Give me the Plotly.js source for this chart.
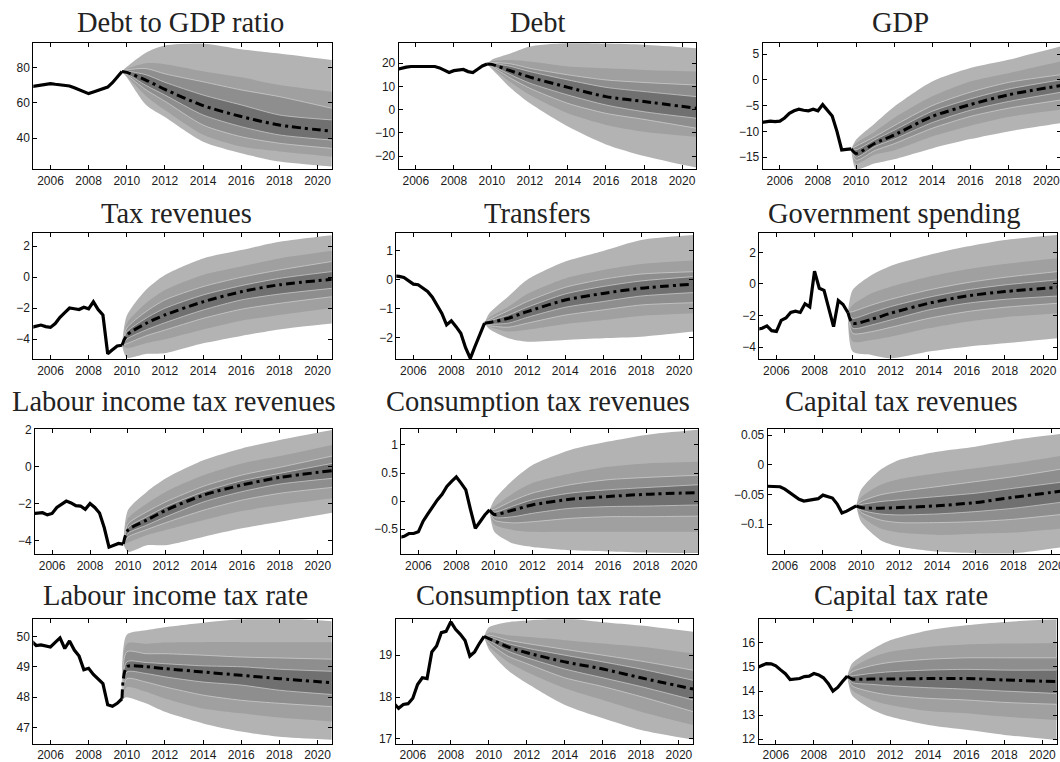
<!DOCTYPE html>
<html>
<head>
<meta charset="utf-8">
<script src="https://cdn.plot.ly/plotly-3.0.1.min.js"></script>
<style>
  html, body { margin: 0; padding: 0; background: #fff; overflow: hidden; }
  #chart { width: 1072px; height: 762px; }
</style>
</head>
<body>
<div id="chart"></div>
<script>
// ---- dates ----
const histDates = [2005, 2005.25, 2005.5, 2005.75, 2006, 2006.25, 2006.5, 2006.75, 2007, 2007.25,
                   2007.5, 2007.75, 2008, 2008.25, 2008.5, 2008.75, 2009, 2009.25, 2009.5, 2009.75];
const fanDates = [2010, 2011, 2012, 2014, 2016, 2018, 2020.75];
const yearTicks = [2006, 2008, 2010, 2012, 2014, 2016, 2018, 2020];

// ---- Debt to GDP ratio ----
const debtGdpHist = [69.3, 69.8, 70.4, 70.8, 71.0, 70.6, 70.2, 70.0, 69.6, 68.6, 67.5, 66.0, 65.3, 66.2, 67.2, 68.3, 69.0, 71.5, 74.5, 77.8];
const debtGdpMid = [77.3, 73, 67.7, 58.5, 52.3, 47.5, 44];
const debtGdpHi = [[78, 76, 71.7, 64.5, 58.9, 53.2, 50.4], [78.7, 79.5, 76.5, 72, 67.4, 63.6, 57],
                   [79.3, 82.5, 82, 78, 74.5, 70.2, 66.4], [80.5, 88.5, 92.5, 93.6, 90.5, 88, 84.3]];
const debtGdpLo = [[76.6, 70, 64.5, 53.2, 46.6, 41.9, 39], [76, 67.5, 61, 47.5, 40.9, 37.2, 34.3],
                   [75.3, 64, 56, 42, 35.3, 32.5, 29.6], [74.5, 59, 52, 38, 31.5, 26.8, 24]];
const debtGdpTicks = [40, 60, 80];

// ---- Debt ----
const debtHist = [17.3, 17.9, 18.3, 18.6, 18.6, 18.6, 18.7, 18.6, 18.6, 18.0, 17.0, 16.0, 16.8, 17.2, 17.3, 16.4, 16.0, 17.4, 18.8, 19.7];
const debtMid = [19.5, 16.7, 14, 9.6, 5.6, 3.5, 0.6];
const debtHi = [[20, 18.6, 16.4, 12.8, 9.6, 7.8, 5.6], [20.3, 19.7, 17.8, 15, 12.8, 11.7, 10.6],
                [20.8, 21.4, 20.7, 18.6, 17.8, 17.1, 16.4], [21.5, 24.3, 27.2, 28.7, 28.5, 28, 26.5]];
const debtLo = [[19, 15, 11.4, 6.3, 2, -0.9, -3.7], [18.6, 13.5, 9.2, 2.7, -1.6, -4.2, -8],
                [18.2, 11.7, 6.3, -1.6, -6.6, -9.5, -11.7], [17.5, 9.2, 2.7, -7.3, -15, -20, -25]];
const debtTicks = [-20, -10, 0, 10, 20];

// ---- GDP ----
const gdpHist = [-8.3, -8.2, -8.0, -8.1, -8.0, -7.4, -6.5, -6.0, -5.7, -5.9, -6.0, -5.7, -6.0, -4.8, -5.8, -7.0, -10.0, -13.6, -13.5, -13.4];
const gdpMid = [-14.3, -12.3, -10.7, -7.1, -4.8, -2.9, -1.1];
const gdpHi = [[-13.6, -11.6, -9.8, -6.1, -3.7, -1.8, 0], [-12.9, -11, -8.9, -5, -2.4, -0.5, 1],
               [-12.3, -10, -7.4, -3.2, -0.3, 1.3, 3.6], [-11.6, -8.4, -5.2, -0.3, 2.3, 3.9, 6.5]];
const gdpLo = [[-15, -12.9, -11.5, -8.3, -5.9, -4.2, -2.4], [-15.6, -13.7, -12.4, -9.4, -7.1, -5.5, -3.9],
               [-16.3, -14.5, -13.7, -11, -8.9, -7.2, -5.8], [-17.3, -16.2, -15.4, -13.3, -11.5, -10, -8.4]];
const gdpTicks = [-15, -10, -5, 0, 5];

// ---- Tax revenues ----
const taxRevHist = [-3.25, -3.2, -3.1, -3.2, -3.25, -3.0, -2.6, -2.3, -2.0, -2.05, -2.1, -1.95, -2.05, -1.6, -2.1, -2.45, -4.95, -4.7, -4.45, -4.4];
const taxRevMid = [-3.75, -3.0, -2.45, -1.6, -0.95, -0.5, -0.15];
const taxRevHi = [[-3.55, -2.67, -2.02, -1.16, -0.56, -0.09, 0.35], [-3.3, -2.24, -1.48, -0.62, -0.02, 0.45, 1.0],
                  [-3.0, -1.7, -0.84, 0.13, 0.67, 1.2, 1.7], [-2.5, -0.84, 0.13, 1.2, 1.74, 2.28, 2.7]];
const taxRevLo = [[-4.0, -3.42, -2.95, -2.13, -1.48, -1.1, -0.73], [-4.3, -3.8, -3.42, -2.67, -2.08, -1.7, -1.27],
                  [-4.6, -4.28, -4.02, -3.38, -2.82, -2.45, -2.0], [-5.2, -4.97, -4.92, -4.28, -3.8, -3.38, -3.0]];
const taxRevTicks = [-4, -2, 0, 2];

// ---- Transfers ----
const transfersHist = [0.13, 0.12, 0.08, -0.02, -0.15, -0.17, -0.27, -0.4, -0.6, -0.87, -1.16, -1.56, -1.42, -1.62, -1.85, -2.35, -2.72, -2.3, -1.9, -1.5];
const transfersMid = [-1.48, -1.33, -1.1, -0.7, -0.47, -0.29, -0.15];
const transfersHi = [[-1.43, -1.22, -0.95, -0.49, -0.23, -0.04, 0.11], [-1.38, -1.07, -0.75, -0.26, 0.02, 0.2, 0.28],
                     [-1.3, -0.93, -0.49, 0.05, 0.34, 0.55, 0.67], [-1.16, -0.58, 0.0, 0.63, 1.0, 1.38, 1.55]];
const transfersLo = [[-1.53, -1.5, -1.3, -0.95, -0.75, -0.56, -0.44], [-1.58, -1.64, -1.5, -1.22, -1.04, -0.87, -0.79],
                     [-1.62, -1.79, -1.73, -1.53, -1.39, -1.25, -1.16], [-1.7, -2.02, -2.14, -2.08, -2.02, -1.97, -1.79]];
const transfersTicks = [-2, -1, 0, 1];

// ---- Government spending ----
const govHist = [-2.86, -2.8, -2.65, -2.95, -3.0, -2.3, -2.15, -1.8, -1.72, -1.8, -1.25, -1.45, 0.8, -0.27, -0.4, -1.6, -2.7, -1.05, -1.3, -1.8];
const govMid = [-2.48, -2.23, -1.85, -1.22, -0.76, -0.48, -0.21];
const govHi = [[-2.17, -1.81, -1.43, -0.84, -0.38, -0.06, 0.25], [-1.75, -1.33, -0.97, -0.38, 0.08, 0.42, 0.78],
               [-1.33, -0.59, -0.17, 0.46, 0.93, 1.26, 1.62], [-0.38, 0.57, 1.14, 1.83, 2.36, 2.78, 3.1]];
const govLo = [[-2.8, -2.59, -2.27, -1.64, -1.22, -0.97, -0.76], [-3.12, -3.01, -2.74, -2.17, -1.75, -1.47, -1.22],
               [-3.64, -3.54, -3.33, -2.8, -2.38, -2.1, -1.85], [-4.27, -4.48, -4.7, -4.27, -3.96, -3.75, -3.43]];
const govTicks = [-4, -2, 0, 2];

// ---- Labour income tax revenues ----
const labRevHist = [-2.52, -2.5, -2.48, -2.6, -2.52, -2.2, -2.0, -1.85, -1.95, -2.1, -2.12, -2.3, -1.98, -2.2, -2.5, -3.3, -4.35, -4.25, -4.15, -4.18];
const labRevMid = [-3.42, -2.88, -2.34, -1.52, -0.98, -0.57, -0.2];
const labRevHi = [[-3.3, -2.7, -2.16, -1.34, -0.75, -0.35, 0.19], [-3.1, -2.43, -1.89, -1.04, -0.44, -0.02, 0.59],
                  [-2.8, -1.98, -1.34, -0.44, 0.19, 0.59, 1.19], [-2.34, -1.34, -0.62, 0.37, 1.0, 1.46, 2.0]];
const labRevLo = [[-3.6, -3.15, -2.7, -1.89, -1.34, -0.93, -0.62], [-3.8, -3.39, -3.02, -2.34, -1.8, -1.43, -1.11],
                  [-4.1, -3.69, -3.42, -2.88, -2.39, -2.07, -1.7], [-4.6, -4.24, -4.24, -3.78, -3.33, -2.97, -2.48]];
const labRevTicks = [-4, -2, 0, 2];

// ---- Consumption tax revenues ----
const conRevHist = [-0.65, -0.63, -0.58, -0.58, -0.55, -0.36, -0.23, -0.1, 0.02, 0.12, 0.26, 0.35, 0.43, 0.32, 0.2, -0.16, -0.49, -0.37, -0.25, -0.16];
const conRevMid = [-0.24, -0.16, -0.07, 0.03, 0.08, 0.12, 0.15];
const conRevHi = [[-0.2, -0.09, 0.02, 0.14, 0.2, 0.24, 0.29], [-0.15, 0.01, 0.14, 0.29, 0.38, 0.42, 0.46],
                  [-0.1, 0.14, 0.32, 0.49, 0.61, 0.67, 0.7], [0.02, 0.38, 0.64, 0.91, 1.06, 1.18, 1.27]];
const conRevLo = [[-0.29, -0.28, -0.22, -0.13, -0.1, -0.09, -0.07], [-0.34, -0.39, -0.37, -0.31, -0.28, -0.28, -0.27],
                  [-0.42, -0.52, -0.55, -0.55, -0.55, -0.55, -0.55], [-0.55, -0.76, -0.82, -0.88, -0.9, -0.92, -0.93]];
const conRevTicks = [-0.5, 0, 0.5, 1];

// ---- Capital tax revenues ----
const capRevHist = [-0.036, -0.036, -0.036, -0.037, -0.041, -0.047, -0.052, -0.058, -0.061, -0.060, -0.058, -0.057, -0.051, -0.054, -0.056, -0.066, -0.081, -0.078, -0.073, -0.069];
const capRevMid = [-0.072, -0.073, -0.072, -0.069, -0.0636, -0.0547, -0.0435];
const capRevHi = [[-0.067, -0.062, -0.0591, -0.0535, -0.0479, -0.0396, -0.0284], [-0.062, -0.0507, -0.0451, -0.0368, -0.0284, -0.02, -0.006],
                  [-0.055, -0.034, -0.0244, -0.0144, -0.006, 0.0024, 0.0164], [-0.042, -0.0088, 0.008, 0.022, 0.0304, 0.0416, 0.0528]];
const capRevLo = [[-0.076, -0.0827, -0.0843, -0.0827, -0.0787, -0.0731, -0.062], [-0.08, -0.0927, -0.0972, -0.0972, -0.0955, -0.0916, -0.0827],
                  [-0.086, -0.1067, -0.114, -0.118, -0.116, -0.114, -0.1067], [-0.096, -0.1263, -0.1375, -0.146, -0.1487, -0.1487, -0.1375]];
const capRevTicks = [-0.1, -0.05, 0, 0.05];

// ---- Labour income tax rate ----
const labRateHist = [49.85, 49.7, 49.72, 49.68, 49.65, 49.8, 49.95, 49.6, 49.85, 49.55, 49.35, 48.9, 48.95, 48.75, 48.6, 48.45, 47.75, 47.7, 47.8, 47.95];
const labRateMid = [49.0, 49.0, 48.94, 48.83, 48.72, 48.61, 48.48];
const labRateHi = [[49.16, 49.14, 49.1, 49.03, 49.0, 48.92, 48.85], [49.49, 49.43, 49.43, 49.38, 49.32, 49.29, 49.25],
                   [49.76, 49.76, 49.8, 49.81, 49.81, 49.81, 49.81], [50.05, 50.2, 50.3, 50.45, 50.56, 50.6, 50.5]];
const labRateLo = [[48.83, 48.78, 48.67, 48.5, 48.4, 48.23, 48.09], [48.61, 48.5, 48.34, 48.07, 47.9, 47.8, 47.69],
                   [48.34, 48.18, 47.96, 47.63, 47.47, 47.33, 47.2], [48.0, 47.8, 47.52, 47.14, 46.87, 46.7, 46.6]];
const labRateTicks = [47, 48, 49, 50];

// ---- Consumption tax rate ----
const conRateHist = [17.85, 17.73, 17.82, 17.84, 17.97, 18.3, 18.46, 18.44, 19.08, 19.22, 19.54, 19.57, 19.8, 19.62, 19.5, 19.35, 18.98, 19.08, 19.28, 19.45];
const conRateMid = [19.4, 19.2, 19.06, 18.84, 18.67, 18.46, 18.19];
const conRateHi = [[19.44, 19.28, 19.17, 19.0, 18.84, 18.67, 18.4], [19.48, 19.36, 19.28, 19.14, 19.0, 18.86, 18.64],
                   [19.54, 19.48, 19.44, 19.36, 19.28, 19.2, 19.04], [19.67, 19.79, 19.83, 19.88, 19.79, 19.71, 19.56]];
const conRateLo = [[19.36, 19.1, 18.94, 18.67, 18.46, 18.25, 17.93], [19.3, 18.98, 18.8, 18.46, 18.25, 18.01, 17.65],
                   [19.22, 18.84, 18.6, 18.21, 17.93, 17.65, 17.33], [19.14, 18.64, 18.33, 17.81, 17.49, 17.21, 16.98]];
const conRateTicks = [17, 18, 19];

// ---- Capital tax rate ----
const capRateHist = [14.97, 15.05, 15.14, 15.13, 15.05, 14.88, 14.72, 14.48, 14.5, 14.52, 14.6, 14.62, 14.73, 14.67, 14.55, 14.32, 14.0, 14.15, 14.4, 14.62];
const capRateMid = [14.5, 14.5, 14.5, 14.52, 14.52, 14.46, 14.39];
const capRateHi = [[14.63, 14.73, 14.8, 14.87, 14.9, 14.87, 14.87], [14.8, 15.05, 15.19, 15.32, 15.38, 15.38, 15.38],
                   [14.94, 15.38, 15.63, 15.83, 15.93, 15.97, 16.0], [15.14, 15.7, 16.11, 16.52, 16.73, 16.87, 16.98]];
const capRateLo = [[14.36, 14.28, 14.22, 14.14, 14.08, 14.0, 13.9], [14.22, 13.97, 13.83, 13.7, 13.63, 13.53, 13.45],
                   [14.04, 13.63, 13.42, 13.17, 13.08, 12.94, 12.8], [13.83, 13.26, 12.94, 12.59, 12.39, 12.18, 11.97]];
const capRateTicks = [12, 13, 14, 15, 16];

const panels = [
  { title: 'Debt to GDP ratio', hist: debtGdpHist, mid: debtGdpMid, hi: debtGdpHi, lo: debtGdpLo, ticks: debtGdpTicks },
  { title: 'Debt', hist: debtHist, mid: debtMid, hi: debtHi, lo: debtLo, ticks: debtTicks },
  { title: 'GDP', hist: gdpHist, mid: gdpMid, hi: gdpHi, lo: gdpLo, ticks: gdpTicks },
  { title: 'Tax revenues', hist: taxRevHist, mid: taxRevMid, hi: taxRevHi, lo: taxRevLo, ticks: taxRevTicks },
  { title: 'Transfers', hist: transfersHist, mid: transfersMid, hi: transfersHi, lo: transfersLo, ticks: transfersTicks },
  { title: 'Government spending', hist: govHist, mid: govMid, hi: govHi, lo: govLo, ticks: govTicks },
  { title: 'Labour income tax revenues', hist: labRevHist, mid: labRevMid, hi: labRevHi, lo: labRevLo, ticks: labRevTicks },
  { title: 'Consumption tax revenues', hist: conRevHist, mid: conRevMid, hi: conRevHi, lo: conRevLo, ticks: conRevTicks },
  { title: 'Capital tax revenues', hist: capRevHist, mid: capRevMid, hi: capRevHi, lo: capRevLo, ticks: capRevTicks },
  { title: 'Labour income tax rate', hist: labRateHist, mid: labRateMid, hi: labRateHi, lo: labRateLo, ticks: labRateTicks },
  { title: 'Consumption tax rate', hist: conRateHist, mid: conRateMid, hi: conRateHi, lo: conRateLo, ticks: conRateTicks },
  { title: 'Capital tax rate', hist: capRateHist, mid: capRateMid, hi: capRateHi, lo: capRateLo, ticks: capRateTicks }
];

// ---- page geometry (pixels): plot box, y range, title centre / baseline, tick label gap ----
const W = 1072, H = 762;
const frames = [
  { left: 33.3,  width: 298.5, top: 43.3,  bottom: 169,   yrange: [22.6, 93.8],    tx: 180,   ty: 33,    gap: 1 },
  { left: 398.7, width: 297.6, top: 43.3,  bottom: 169,   yrange: [-25.6, 28.6],   tx: 537.5, ty: 33,    gap: 1 },
  { left: 762.7, width: 298,   top: 43.3,  bottom: 169,   yrange: [-17.3, 7.1],    tx: 900,   ty: 33,    gap: 1 },
  { left: 33.3,  width: 298.5, top: 233.3, bottom: 359,   yrange: [-5.29, 2.82],   tx: 176,   ty: 223.3, gap: 1 },
  { left: 396.3, width: 297,   top: 233.3, bottom: 359,   yrange: [-2.74, 1.61],   tx: 537.5, ty: 223.3, gap: 1 },
  { left: 759.3, width: 298,   top: 233.3, bottom: 359,   yrange: [-4.74, 3.2],    tx: 894,   ty: 223.3, gap: 1 },
  { left: 35,    width: 297,   top: 429.3, bottom: 554,   yrange: [-4.72, 2.04],   tx: 174,   ty: 411.5, gap: 1 },
  { left: 401.3, width: 297,   top: 429.3, bottom: 554,   yrange: [-0.946, 1.28],  tx: 538,   ty: 411.5, gap: 1 },
  { left: 767.7, width: 298,   top: 429.3, bottom: 554,   yrange: [-0.15, 0.0596], tx: 901.5, ty: 411.5, gap: 1 },
  { left: 33.3,  width: 298.5, top: 619.3, bottom: 743.8, yrange: [46.47, 50.56],  tx: 175.5, ty: 605.3, gap: 0 },
  { left: 395.7, width: 297.5, top: 619.3, bottom: 743.8, yrange: [16.88, 19.86],  tx: 538,   ty: 605.3, gap: 0 },
  { left: 758.7, width: 298,   top: 619.3, bottom: 743.8, yrange: [11.81, 16.98],  tx: 900.5, ty: 605.3, gap: 0 }
];

// band fills, innermost first
const bandColors = ['#707070', '#8e8e8e', '#a0a0a0', '#b3b3b3'];
const edgeLine = { color: 'rgba(214,214,214,0.95)', width: 0.7 };
const tickFont = { family: 'Liberation Sans, Arial, Helvetica, sans-serif', size: 12, color: '#1a1a1a' };
const minus = v => String(v).replace('-', '\u2212');

const traces = [];
const layout = {
  width: W, height: H,
  margin: { l: 0, r: 0, t: 0, b: 0 },
  paper_bgcolor: '#ffffff', plot_bgcolor: '#ffffff',
  showlegend: false, hovermode: false,
  annotations: []
};

const axisBase = {
  showgrid: false, zeroline: false, showline: true, linecolor: '#000', linewidth: 1,
  mirror: 'ticks', ticks: 'inside', ticklen: 4, tickwidth: 1, tickcolor: '#000',
  tickfont: tickFont, fixedrange: true, tickmode: 'array'
};

panels.forEach((p, i) => {
  const n = i + 1;
  const f = frames[i];
  const xa = 'x' + n, ya = 'y' + n;
  const lastX = histDates[histDates.length - 1];
  const lastY = p.hist[p.hist.length - 1];
  const fx = [lastX].concat(fanDates);

  // fan: outer band first, each band filled between its lower and upper edge
  for (let k = 3; k >= 0; k--) {
    const edge = k <= 1 ? edgeLine : { color: bandColors[k], width: 0 };
    traces.push({
      x: fx, y: [lastY].concat(p.lo[k]), xaxis: xa, yaxis: ya, type: 'scatter', mode: 'lines',
      line: { color: edge.color, width: edge.width, shape: 'spline', smoothing: 0.7 }
    });
    traces.push({
      x: fx, y: [lastY].concat(p.hi[k]), xaxis: xa, yaxis: ya, type: 'scatter', mode: 'lines',
      line: { color: edge.color, width: edge.width, shape: 'spline', smoothing: 0.7 },
      fill: 'tonexty', fillcolor: bandColors[k]
    });
  }
  // central projection
  traces.push({
    x: fx, y: [lastY].concat(p.mid), xaxis: xa, yaxis: ya, type: 'scatter', mode: 'lines',
    line: { color: '#000', width: 3, dash: '9px,4px,3px,4px', shape: 'spline', smoothing: 0.7 }
  });
  // observed history
  traces.push({
    x: histDates, y: p.hist, xaxis: xa, yaxis: ya, type: 'scatter', mode: 'lines',
    line: { color: '#000', width: 3.2 }
  });

  layout['xaxis' + n] = Object.assign({}, axisBase, {
    domain: [f.left / W, (f.left + f.width) / W], anchor: ya,
    range: [2005.1, 2020.75], tickvals: yearTicks, ticktext: yearTicks.map(String),
    ticklabelstandoff: f.gap
  });
  layout['yaxis' + n] = Object.assign({}, axisBase, {
    domain: [(H - f.bottom) / H, (H - f.top) / H], anchor: xa,
    range: f.yrange, tickvals: p.ticks, ticktext: p.ticks.map(minus)
  });

  layout.annotations.push({
    text: p.title, xref: 'paper', yref: 'paper',
    x: f.tx / W, y: (H - f.ty - 7.2) / H, xanchor: 'center', yanchor: 'bottom',
    showarrow: false,
    font: { family: 'Liberation Serif, Times New Roman, serif', size: 28.5, color: '#222' }
  });
});

Plotly.newPlot('chart', traces, layout, { staticPlot: true, displayModeBar: false });
</script>
</body>
</html>
